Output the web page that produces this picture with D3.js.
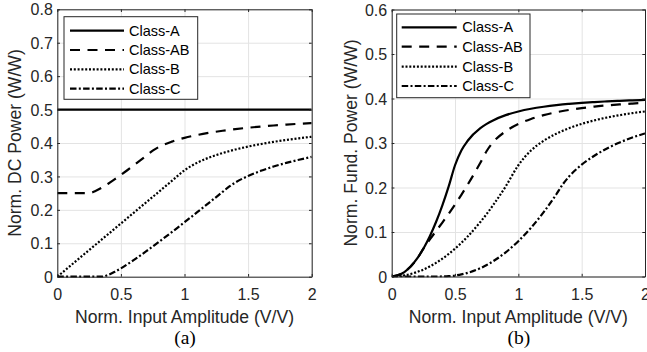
<!DOCTYPE html>
<html>
<head>
<meta charset="utf-8">
<script src="https://cdn.jsdelivr.net/npm/d3@7"></script>
<style>
  html, body { margin: 0; padding: 0; background: #fff; }
  svg { display: block; }
</style>
</head>
<body>
<svg id="chart" width="647" height="352"></svg>
<script>
// ---- data ----
const amplitude = [0, 0.1, 0.2, 0.25, 0.3, 0.35, 0.4, 0.45, 0.5, 0.55, 0.6, 0.7, 0.75, 0.8, 0.9, 1.0,
                   1.1, 1.2, 1.3, 1.35, 1.4, 1.5, 1.6, 1.7, 1.8, 1.9, 2.0];
const classNames = ["Class-A", "Class-AB", "Class-B", "Class-C"];

const dcClassA  = [0.5,0.5,0.5,0.5,0.5,0.5,0.5,0.5,0.5,0.5,0.5,0.5,0.5,0.5,0.5,0.5,0.5,0.5,0.5,0.5,0.5,0.5,0.5,0.5,0.5,0.5,0.5];
const dcClassAB = [0.25,0.25,0.25,0.25,0.2562,0.2663,0.2781,0.2910,0.3045,0.3185,0.3328,0.3622,0.3771,0.3884,0.4041,0.4153,
                   0.4240,0.4309,0.4367,0.4392,0.4415,0.4456,0.4492,0.4523,0.4551,0.4575,0.4597];
const dcClassB  = [0,0.0318,0.0637,0.0796,0.0955,0.1114,0.1273,0.1432,0.1592,0.1751,0.1910,0.2228,0.2387,0.2546,0.2865,0.3183,
                   0.3411,0.3573,0.3700,0.3755,0.3805,0.3893,0.3968,0.4034,0.4091,0.4141,0.4186];
const dcClassC  = [0,0,0,0,0,0,0.0053,0.0143,0.0250,0.0369,0.0495,0.0763,0.0902,0.1044,0.1334,0.1630,
                   0.1930,0.2233,0.2539,0.2692,0.2818,0.3012,0.3167,0.3295,0.3404,0.3499,0.3583];

const fundClassA  = [0,0.01,0.04,0.0625,0.09,0.1225,0.16,0.2025,0.25,0.2832,0.3050,0.3333,0.3430,0.3508,0.3626,0.3709,
                     0.3770,0.3815,0.3851,0.3866,0.3879,0.3902,0.3920,0.3935,0.3948,0.3959,0.3968];
const fundClassAB = [0,0.01,0.04,0.0625,0.0830,0.1020,0.1212,0.1410,0.1618,0.1836,0.2065,0.2557,0.2821,0.3015,0.3263,0.3426,
                     0.3541,0.3627,0.3692,0.3719,0.3743,0.3784,0.3818,0.3845,0.3868,0.3887,0.3903];
const fundClassB  = [0,0.0025,0.01,0.0156,0.0225,0.0306,0.04,0.0506,0.0625,0.0756,0.09,0.1225,0.1406,0.16,0.2025,0.25,
                     0.2832,0.3050,0.3210,0.3275,0.3333,0.3430,0.3508,0.3573,0.3626,0.3671,0.3709];
const fundClassC  = [0,0,0,0,0,0,0.0001,0.0007,0.0022,0.0047,0.0082,0.0187,0.0258,0.0341,0.0543,0.0794,
                     0.1096,0.1447,0.1848,0.2068,0.2246,0.2512,0.2714,0.2878,0.3011,0.3123,0.3216];

const xTicks = [0, 0.5, 1, 1.5, 2];
const dcTicks = [0, 0.1, 0.2, 0.3, 0.4, 0.5, 0.6, 0.7, 0.8];
const fundTicks = [0, 0.1, 0.2, 0.3, 0.4, 0.5, 0.6];
const xLabel = "Norm. Input Amplitude (V/V)";

// ---- styling ----
const dashes = ["none", "10,7.5", "2,1.8", "6.5,2.3,2,2.3"];
const axisColor = "#262626";
const gridColor = "#e3e3e3";
const sans = '"Liberation Sans", Arial, Helvetica, sans-serif';
const serif = '"Liberation Serif", "Times New Roman", serif';

const panels = [
  { id: "a", x0: 57.3, x1: 311.7, y0: 9.3, y1: 276.7, yMax: 0.8, yTicks: dcTicks,
    series: [dcClassA, dcClassAB, dcClassB, dcClassC], yLabel: "Norm. DC Power (W/W)", yLabelX: 20.5,
    legend: { x: 64, y: 16.7, w: 133.7, h: 82.6, lx0: 70, lx1: 124, tx: 129, ys: [30.7, 50, 69.3, 88.7] },
    caption: "(a)" },
  { id: "b", x0: 391.7, x1: 645, y0: 9.5, y1: 276.5, yMax: 0.6, yTicks: fundTicks,
    series: [fundClassA, fundClassAB, fundClassB, fundClassC], yLabel: "Norm. Fund. Power (W/W)", yLabelX: 356.5,
    legend: { x: 396.7, y: 14, w: 133.3, h: 83.7, lx0: 401.7, lx1: 456.7, tx: 462.3, ys: [27.3, 46.7, 66.7, 86] },
    caption: "(b)" }
];

const svg = d3.select("#chart");
svg.append("rect").attr("width", 647).attr("height", 352).attr("fill", "#fff");

panels.forEach(p => {
  const x = d3.scaleLinear().domain([0, 2]).range([p.x0, p.x1]);
  const y = d3.scaleLinear().domain([0, p.yMax]).range([p.y1, p.y0]);
  const g = svg.append("g");

  // grid
  g.append("g").attr("transform", `translate(0,${p.y1})`)
    .call(d3.axisBottom(x).tickValues(xTicks).tickSize(-(p.y1 - p.y0)).tickFormat(""))
    .call(s => s.select(".domain").remove())
    .call(s => s.selectAll("line").attr("stroke", gridColor).attr("stroke-width", 1));
  g.append("g").attr("transform", `translate(${p.x0},0)`)
    .call(d3.axisLeft(y).tickValues(p.yTicks).tickSize(-(p.x1 - p.x0)).tickFormat(""))
    .call(s => s.select(".domain").remove())
    .call(s => s.selectAll("line").attr("stroke", gridColor).attr("stroke-width", 1));

  // clip
  const clipId = "clip-" + p.id;
  svg.append("clipPath").attr("id", clipId).append("rect")
    .attr("x", p.x0).attr("y", p.y0 - 1).attr("width", p.x1 - p.x0).attr("height", p.y1 - p.y0 + 2);

  const line = d3.line().x((d, i) => x(amplitude[i])).y(d => y(d)).curve(d3.curveMonotoneX);
  const cg = g.append("g").attr("clip-path", `url(#${clipId})`);
  p.series.forEach((vals, k) => {
    cg.append("path").datum(vals)
      .attr("d", line)
      .attr("fill", "none")
      .attr("stroke", "#000")
      .attr("stroke-width", 2.2)
      .attr("stroke-dasharray", dashes[k]);
  });

  // axes (ticks inward on all sides)
  const styleAxis = s => {
    s.select(".domain").attr("stroke", axisColor).attr("stroke-width", 1);
    s.selectAll(".tick line").attr("stroke", axisColor);
    s.selectAll(".tick text").attr("fill", axisColor).style("font-size", "16px").style("font-family", sans);
  };
  g.append("g").attr("transform", `translate(0,${p.y1})`)
    .call(d3.axisBottom(x).tickValues(xTicks).tickSize(-2.7).tickSizeOuter(0).tickFormat(d => String(d)))
    .call(styleAxis)
    .call(s => s.selectAll(".tick text").attr("y", 23.3).attr("dy", null));
  g.append("g").attr("transform", `translate(0,${p.y0})`)
    .call(d3.axisTop(x).tickValues(xTicks).tickSize(-2.7).tickSizeOuter(0).tickFormat(""))
    .call(styleAxis);
  g.append("g").attr("transform", `translate(${p.x0},0)`)
    .call(d3.axisLeft(y).tickValues(p.yTicks).tickSize(-2.7).tickSizeOuter(0).tickFormat(d => String(d)))
    .call(styleAxis)
    .call(s => s.selectAll(".tick text").attr("x", -4.5).attr("dy", "0.35em"));
  g.append("g").attr("transform", `translate(${p.x1},0)`)
    .call(d3.axisRight(y).tickValues(p.yTicks).tickSize(-2.7).tickSizeOuter(0).tickFormat(""))
    .call(styleAxis);

  // axis labels
  g.append("text")
    .attr("x", (p.x0 + p.x1) / 2).attr("y", 323)
    .attr("text-anchor", "middle").attr("fill", axisColor)
    .style("font-size", "17.6px").style("font-family", sans)
    .text(xLabel);
  g.append("text")
    .attr("transform", `translate(${p.yLabelX},${(p.y0 + p.y1) / 2}) rotate(-90)`)
    .attr("text-anchor", "middle").attr("fill", axisColor)
    .style("font-size", "17.6px").style("font-family", sans)
    .text(p.yLabel);

  // caption
  g.append("text")
    .attr("x", (p.x0 + p.x1) / 2 + 0.5).attr("y", 343.5)
    .attr("text-anchor", "middle").attr("fill", "#000")
    .style("font-size", "19.5px").style("font-family", serif)
    .text(p.caption);

  // legend
  const L = p.legend;
  const lg = g.append("g");
  lg.append("rect").attr("x", L.x).attr("y", L.y).attr("width", L.w).attr("height", L.h)
    .attr("fill", "#fff").attr("stroke", axisColor).attr("stroke-width", 1);
  classNames.forEach((name, k) => {
    lg.append("line").attr("x1", L.lx0).attr("x2", L.lx1).attr("y1", L.ys[k]).attr("y2", L.ys[k])
      .attr("stroke", "#000").attr("stroke-width", 2.2).attr("stroke-dasharray", dashes[k]);
    lg.append("text").attr("x", L.tx).attr("y", L.ys[k]).attr("dy", "0.35em")
      .attr("fill", "#000").style("font-size", "14.5px").style("font-family", sans)
      .text(name);
  });
});
</script>
</body>
</html>
